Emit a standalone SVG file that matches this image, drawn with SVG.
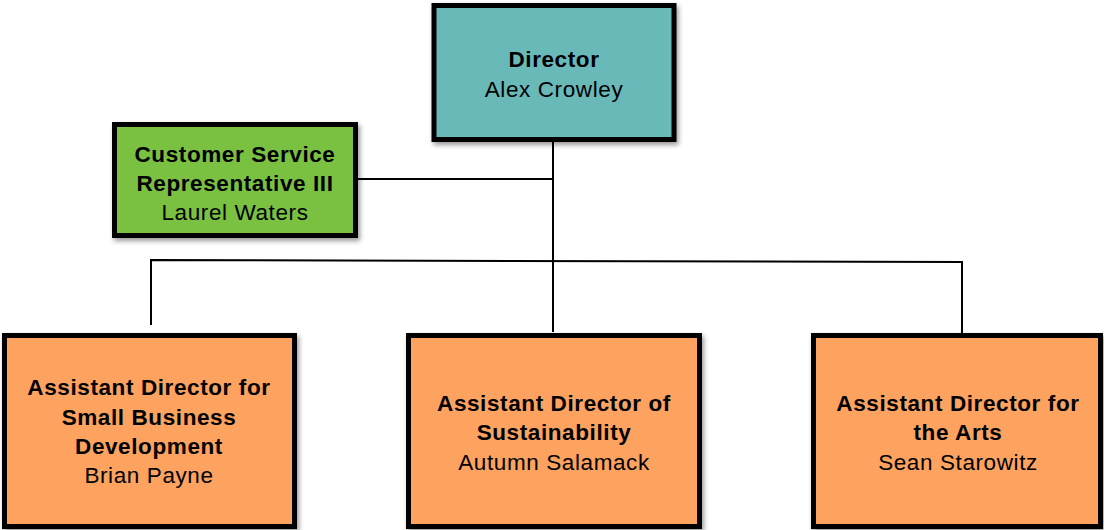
<svg xmlns="http://www.w3.org/2000/svg" width="1104" height="530" viewBox="0 0 1104 530">
<style>
.box{stroke:#000;stroke-width:5;filter:url(#sh)}
.t{font-family:"Liberation Sans",Arial,sans-serif;font-size:22.5px;letter-spacing:0.6px;text-anchor:middle;fill:#000}
.b{font-weight:bold}
.c{stroke:#000;stroke-width:2;fill:none}
</style>
<defs>
<filter id="sh" x="-10%" y="-10%" width="125%" height="125%">
<feDropShadow dx="2" dy="3" stdDeviation="2.5" flood-color="#000" flood-opacity="0.4"/>
</filter>
</defs>
<rect width="1104" height="530" fill="#fff"/>
<g id="connectors">
<path class="c" d="M553 142 V332"/>
<path class="c" d="M358 179 H553"/>
<path class="c" d="M151 325 V260 L962 262 V333"/>
</g>
<g id="director">
<rect class="box" x="434" y="5.5" width="240" height="134" fill="#6ab9b9"/>
<text class="t b" x="554" y="67">Director</text>
<text class="t" x="554" y="97">Alex Crowley</text>
</g>
<g id="csr">
<rect class="box" x="114.5" y="124.5" width="241" height="111" fill="#7ac143"/>
<text class="t b" x="235" y="162">Customer Service</text>
<text class="t b" x="235" y="191">Representative III</text>
<text class="t" x="235" y="220">Laurel Waters</text>
</g>
<g id="ad-small-business">
<rect class="box" x="4.5" y="335.5" width="290" height="191" fill="#fda25e"/>
<text class="t b" x="149" y="395">Assistant Director for</text>
<text class="t b" x="149" y="424.5">Small Business</text>
<text class="t b" x="149" y="454">Development</text>
<text class="t" x="149" y="483">Brian Payne</text>
</g>
<g id="ad-sustainability">
<rect class="box" x="408.5" y="335.5" width="291" height="191" fill="#fda25e"/>
<text class="t b" x="554" y="411">Assistant Director of</text>
<text class="t b" x="554" y="440">Sustainability</text>
<text class="t" x="554" y="470">Autumn Salamack</text>
</g>
<g id="ad-arts">
<rect class="box" x="813.5" y="335.5" width="287" height="191" fill="#fda25e"/>
<text class="t b" x="958" y="411">Assistant Director for</text>
<text class="t b" x="958" y="440">the Arts</text>
<text class="t" x="958" y="470">Sean Starowitz</text>
</g>
</svg>
